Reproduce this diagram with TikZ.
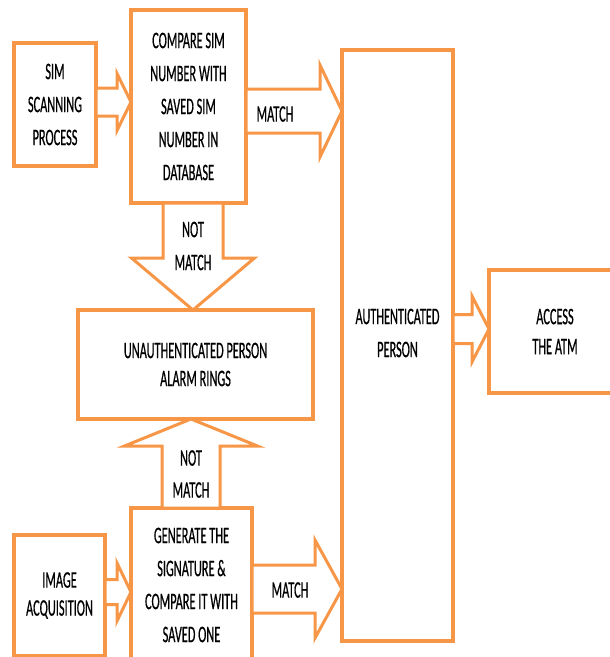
\documentclass[tikz,border=0pt]{standalone}
\usepackage{fontspec}
\setmainfont[FakeStretch=0.52, FakeBold=0.5]{Carlito}
\usetikzlibrary{calc}
\definecolor{boxorange}{HTML}{F79646}
\tikzset{
  box/.style={rectangle, draw=boxorange, line width=4pt, fill=white, inner sep=0pt, outer sep=0pt, align=center, font=\fontsize{23.7}{33}\selectfont},
  lbl/.style={inner sep=0pt, align=center, font=\fontsize{23.7}{33}\selectfont},
  rarrow/.style args={#1/#2/#3}{draw=boxorange, line width=3pt, fill=white, to path={
    ($(\tikztostart)+(0,#1)$) -- ($(\tikztotarget)+(#3,#1)$) -- ($(\tikztotarget)+(#3,#2)$) -- (\tikztotarget)
    -- ($(\tikztotarget)+(#3,-#2)$) -- ($(\tikztotarget)+(#3,-#1)$) -- ($(\tikztostart)+(0,-#1)$) -- cycle}},
  varrow/.style args={#1/#2/#3}{draw=boxorange, line width=3pt, fill=white, to path={
    ($(\tikztostart)+(#1,0)$) -- ($(\tikztotarget)+(#1,#3)$) -- ($(\tikztotarget)+(#2,#3)$) -- (\tikztotarget)
    -- ($(\tikztotarget)+(-#2,#3)$) -- ($(\tikztotarget)+(-#1,#3)$) -- ($(\tikztostart)+(-#1,0)$) -- cycle}}
}

\begin{document}
\begin{tikzpicture}[x=1pt, y=-1pt]
    \useasboundingbox (0,0) rectangle (610,657);
    % boxes
    \node[box, minimum width=82, minimum height=123] (sim) at (55,104.5) {SIM\\SCANNING\\PROCESS};
    \node[box, minimum width=115, minimum height=193] (cmp) at (188.5,106.5) {COMPARE SIM\\NUMBER WITH\\SAVED SIM\\NUMBER IN\\DATABASE};
    \node[box, minimum width=111, minimum height=591] (auth) at (397.5,345.5) {};
    \node[lbl] (authtxt) at (397.5,333) {AUTHENTICATED\\PERSON};
    \node[box, minimum width=132, minimum height=123] (atm) at (555,331.5) {ACCESS\\[-3pt]THE ATM};
    \node[box, minimum width=235, minimum height=109] (unauth) at (195.5,364.5) {UNAUTHENTICATED PERSON\\[-5pt]ALARM RINGS};
    \node[box, minimum width=91, minimum height=121] (img) at (59.5,595.5) {IMAGE\\[-5pt]ACQUISITION};
    \node[box, minimum width=121, minimum height=154] (gen) at (191.5,585) {GENERATE THE\\SIGNATURE \&\\COMPARE IT WITH\\SAVED ONE};

    % block arrows
    \draw[rarrow=14/28.5/-14] (sim.east |- 0,102) to (cmp.west |- 0,102);
    \draw[rarrow=22/46/-22] (cmp.east |- 0,111) to (auth.west |- 0,111);
    \draw[varrow=30/61.5/-52] (cmp.south -| 193,0) to (unauth.north -| 193,0);
    \draw[varrow=29/66.5/27] (gen.north -| 191,0) to (unauth.south -| 191,0);
    \draw[rarrow=12.5/29/-14] (img.east |- 0,592) to (gen.west |- 0,592);
    \draw[rarrow=24/49/-27] (gen.east |- 0,589) to (auth.west |- 0,589);
    \draw[rarrow=14.5/33/-17] (auth.east |- 0,329) to (atm.west |- 0,329);

    % arrow labels
    \node[lbl] (match1) at (275,114) {MATCH};
    \node[lbl] (notmatch1) at (193,246) {NOT\\MATCH};
    \node[lbl] (notmatch2) at (191,474) {NOT\\[-1pt]MATCH};
    \node[lbl] (match2) at (290,590) {MATCH};
\end{tikzpicture}
\end{document}
